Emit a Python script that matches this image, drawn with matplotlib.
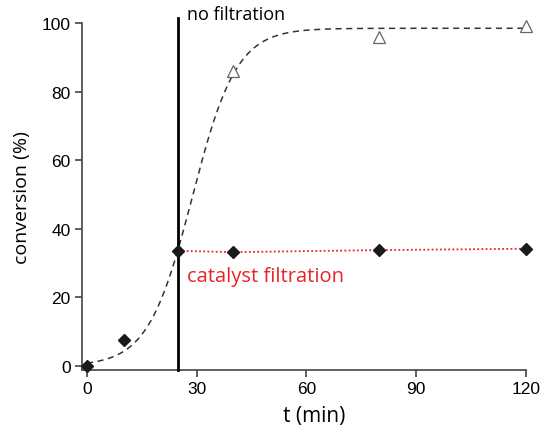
import numpy as np
import matplotlib.pyplot as plt

# filtered run (catalyst removed at 25 min)
t_filt = [0, 10, 25, 40, 80, 120]
conv_filt = [0, 7.6, 33.6, 33.2, 33.8, 34.2]

# unfiltered run
t_nofilt = [40, 80, 120]
conv_nofilt = [86, 95.9, 99.1]

# logistic fit through the unfiltered data
fit_max = 98.5
fit_k = 0.165
fit_t0 = 28.8
t_fit = np.linspace(0, 120, 400)
conv_fit = fit_max / (1 + np.exp(-fit_k * (t_fit - fit_t0)))

t_filtration = 25

fig = plt.figure(figsize=(5.42, 4.31), dpi=100)
ax = fig.add_axes([0.151, 0.139, 0.819, 0.805])

ax.plot(t_fit, conv_fit, color="#333333", lw=1.1, ls=(0, (4, 3)))
ax.plot([t_filtration, t_filtration], [-1.2, 101.5], color="black", lw=2, clip_on=False, zorder=3)
ax.plot(t_filt[2:], conv_filt[2:], color="#e8232a", lw=1.3, ls=(0, (1, 1.3)), zorder=2)
ax.plot(t_filt, conv_filt, ls="none", marker="D", ms=6, color="#1a1a1a", mec="#1a1a1a", zorder=4, clip_on=False)
ax.plot(t_nofilt, conv_nofilt, ls="none", marker="^", ms=8, mfc="white", mec="#666666", mew=0.9, zorder=4, clip_on=False)

ax.text(27.3, 100, "no filtration", fontsize=13, family="Open Sans", color="black", va="bottom")
ax.text(27.4, 26.2, "catalyst filtration", fontsize=14.5, family="Open Sans", color="#e8232a", va="center")

ax.set_xlim(-1.4, 120)
ax.set_ylim(-1.2, 100)
ax.set_xticks([0, 30, 60, 90, 120])
ax.set_yticks([0, 20, 40, 60, 80, 100])
ax.spines["top"].set_visible(False)
ax.spines["right"].set_visible(False)
for s in ["left", "bottom"]:
    ax.spines[s].set_color("#444444")
    ax.spines[s].set_linewidth(1.2)
ax.tick_params(direction="out", length=5, width=1.2, color="#444444", labelsize=12.5, pad=3)
for lbl in ax.get_xticklabels() + ax.get_yticklabels():
    lbl.set_family("Liberation Sans")

ax.set_xlabel("t (min)", fontsize=15, family="Open Sans")
ax.xaxis.set_label_coords(0.523, -0.1)
ax.set_ylabel("conversion (%)", fontsize=14, family="Open Sans", labelpad=8)

fig.savefig("out.png", dpi=100)
